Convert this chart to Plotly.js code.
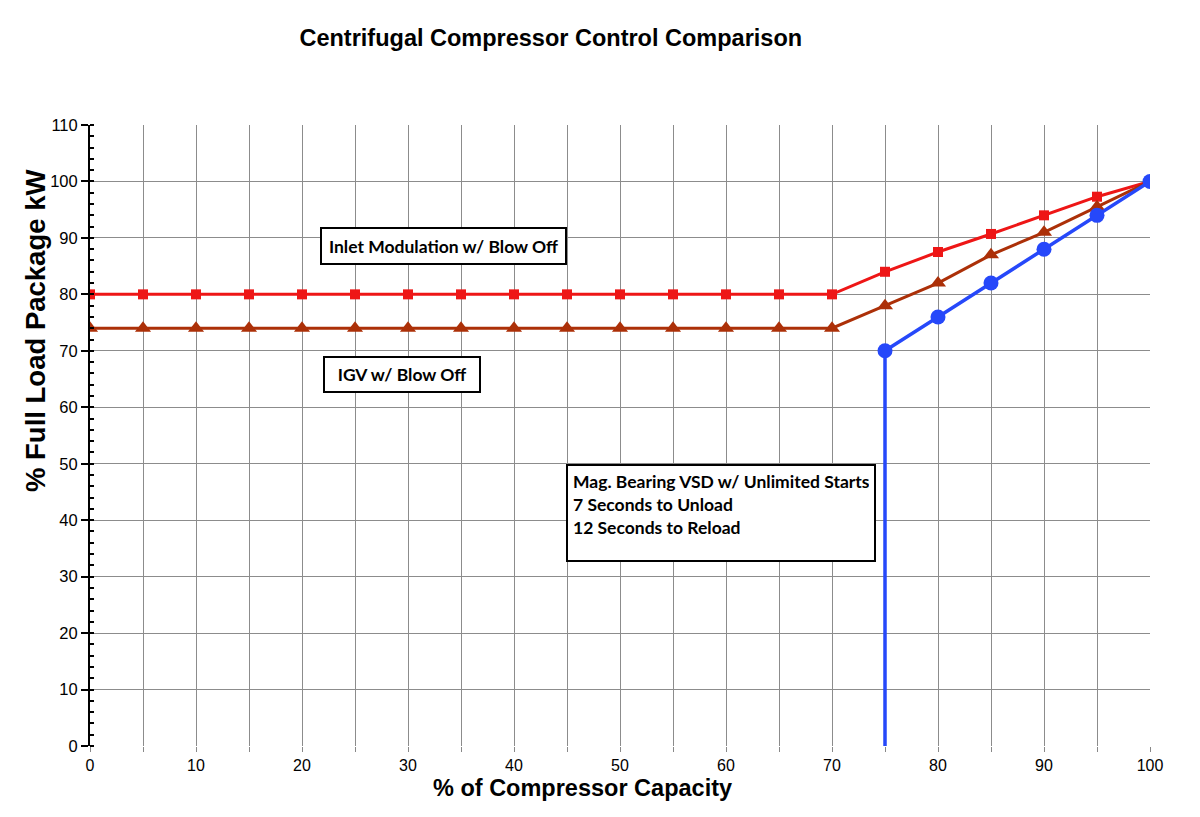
<!DOCTYPE html>
<html>
<head>
<meta charset="utf-8">
<script src="https://cdn.plot.ly/plotly-3.0.1.min.js"></script>
<style>
  html, body { margin: 0; padding: 0; background: #fff; }
  #chart { width: 1200px; height: 817px; }
</style>
</head>
<body>
<div id="chart"></div>
<script>
// Compressor capacity (%) and package power (% of full-load kW) for each control type
const capacityInlet = [0, 5, 10, 15, 20, 25, 30, 35, 40, 45, 50, 55, 60, 65, 70, 75, 80, 85, 90, 95, 100];
const kwInlet = [80, 80, 80, 80, 80, 80, 80, 80, 80, 80, 80, 80, 80, 80, 80, 84, 87.5, 90.7, 94, 97.3, 100];

const capacityIGV = [0, 5, 10, 15, 20, 25, 30, 35, 40, 45, 50, 55, 60, 65, 70, 75, 80, 85, 90, 95, 100];
const kwIGV = [74, 74, 74, 74, 74, 74, 74, 74, 74, 74, 74, 74, 74, 74, 74, 78, 82, 87, 91, 95.5, 100];

const capacityVSD = [75, 75, 80, 85, 90, 95, 100];
const kwVSD = [0, 70, 76, 82, 88, 94, 100];
const vsdMarkerSizes = [0, 15, 15, 15, 15, 15, 15];

const xTicks = [0, 10, 20, 30, 40, 50, 60, 70, 80, 90, 100];
const yTicks = [0, 10, 20, 30, 40, 50, 60, 70, 80, 90, 100, 110];

const RED = 'rgb(238,22,22)';
const BROWN = 'rgb(172,48,8)';
const BLUE = 'rgb(38,72,250)';

const traces = [
  {
    x: capacityInlet, y: kwInlet, type: 'scatter', mode: 'lines+markers',
    name: 'Inlet Modulation w/ Blow Off',
    line: { color: RED, width: 3 },
    marker: { symbol: 'square', size: 10, color: RED, opacity: 1, line: { width: 0 } }
  },
  {
    x: capacityIGV, y: kwIGV, type: 'scatter', mode: 'lines+markers',
    name: 'IGV w/ Blow Off',
    line: { color: BROWN, width: 3 },
    marker: { symbol: 'triangle-up', size: 14, color: BROWN, opacity: 1, line: { width: 0 } }
  },
  {
    x: capacityVSD, y: kwVSD, type: 'scatter', mode: 'lines+markers',
    name: 'Mag. Bearing VSD w/ Unlimited Starts',
    line: { color: BLUE, width: 3.5 },
    marker: { symbol: 'circle', size: vsdMarkerSizes, color: BLUE, opacity: 1, line: { width: 0 } }
  }
];

const boxFont = { family: 'Lato, "Open Sans", sans-serif', size: 17.5, color: '#000', weight: 'bold' };
const arial = 'Arial, "Liberation Sans", sans-serif';

const layout = {
  width: 1200, height: 817,
  margin: { l: 90, r: 50, t: 125, b: 71 },
  paper_bgcolor: '#fff', plot_bgcolor: '#fff',
  showlegend: false,
  font: { family: arial, color: '#000' },
  title: {
    text: '<b>Centrifugal Compressor Control Comparison</b>',
    x: 0.459, xref: 'container', xanchor: 'center',
    y: 0.954, yref: 'container', yanchor: 'middle',
    font: { size: 23.5, color: '#000', family: arial }
  },
  xaxis: {
    range: [0, 100], fixedrange: true,
    tickmode: 'array', tickvals: xTicks,
    ticks: 'outside', ticklen: 5, tickcolor: '#888',
    tickfont: { size: 16, color: '#000' },
    showgrid: true, gridcolor: '#8c8c8c', gridwidth: 1,
    minor: { dtick: 5, showgrid: true, gridcolor: '#8c8c8c', gridwidth: 1, ticks: 'outside', ticklen: 5, tickcolor: '#888' },
    showline: false, zeroline: false
  },
  yaxis: {
    range: [0, 110], fixedrange: true,
    tickmode: 'array', tickvals: yTicks,
    ticks: 'outside', ticklen: 7, tickwidth: 2, tickcolor: '#000',
    tickfont: { size: 16.5, color: '#000' },
    showgrid: true, gridcolor: '#8c8c8c', gridwidth: 1,
    minor: { dtick: 2, ticks: 'inside', ticklen: 4, tickwidth: 2, tickcolor: '#000', showgrid: false },
    showline: true, linecolor: '#000', linewidth: 2,
    zeroline: false
  },
  annotations: [
    {
      text: '<b>% of Compressor Capacity</b>', showarrow: false,
      xref: 'paper', yref: 'paper', x: 0.465, y: -0.067, xanchor: 'center', yanchor: 'middle',
      font: { size: 23.5, color: '#000', family: arial }
    },
    {
      text: '<b>% Full Load Package kW</b>', showarrow: false, textangle: -90,
      xref: 'paper', yref: 'paper', x: -0.052, y: 0.668, xanchor: 'center', yanchor: 'middle',
      font: { size: 27.5, color: '#000', family: arial }
    },
    {
      text: 'Inlet Modulation w/ Blow Off', showarrow: false,
      xref: 'x', yref: 'y', x: 33.35, y: 88.57, xanchor: 'center', yanchor: 'middle',
      width: 243, height: 34, borderpad: 0, align: 'center', valign: 'middle',
      bgcolor: '#fff', bordercolor: '#000', borderwidth: 2, font: boxFont
    },
    {
      text: 'IGV w/ Blow Off', showarrow: false,
      xref: 'x', yref: 'y', x: 29.43, y: 65.8, xanchor: 'center', yanchor: 'middle',
      width: 154, height: 33, borderpad: 0, align: 'center', valign: 'middle',
      bgcolor: '#fff', bordercolor: '#000', borderwidth: 2, font: boxFont
    },
    {
      text: 'Mag. Bearing VSD w/ Unlimited Starts<br>7 Seconds to Unload<br>12 Seconds to Reload',
      showarrow: false,
      xref: 'x', yref: 'y', x: 59.53, y: 41.27, xanchor: 'center', yanchor: 'middle',
      width: 296, height: 84, borderpad: 5, align: 'left', valign: 'top',
      bgcolor: '#fff', bordercolor: '#000', borderwidth: 2, font: boxFont
    }
  ]
};

Plotly.newPlot('chart', traces, layout, { displayModeBar: false, staticPlot: true });
</script>
</body>
</html>
